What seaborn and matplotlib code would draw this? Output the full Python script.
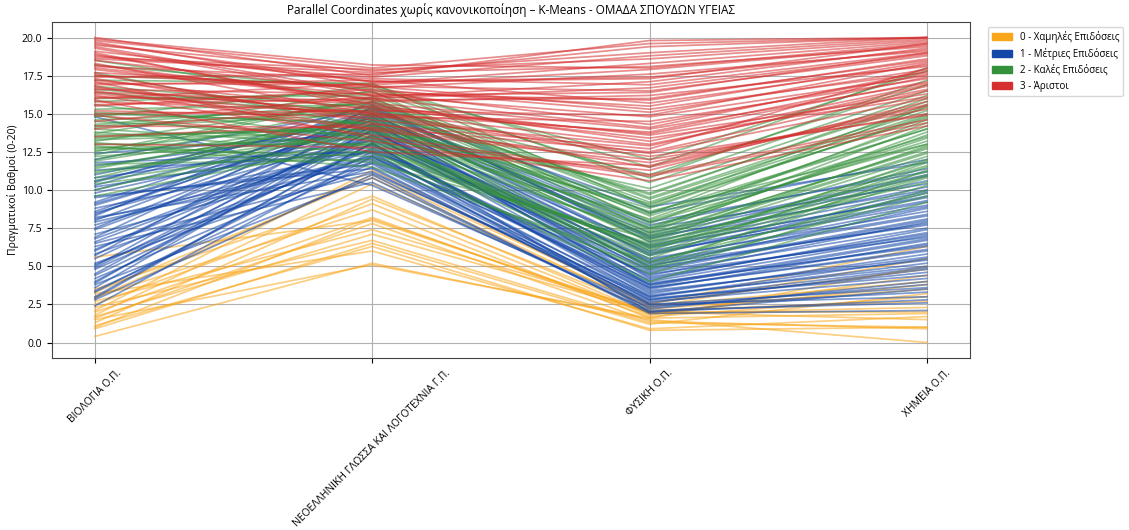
import matplotlib
matplotlib.use("Agg")
import matplotlib.pyplot as plt
from matplotlib.patches import Patch
import pandas as pd
import seaborn as sns

# subjects (axes of the parallel coordinates)
subjects = ["ΒΙΟΛΟΓΙΑ Ο.Π.", "ΝΕΟΕΛΛΗΝΙΚΗ ΓΛΩΣΣΑ ΚΑΙ ΛΟΓΟΤΕΧΝΙΑ Γ.Π.",
            "ΦΥΣΙΚΗ Ο.Π.", "ΧΗΜΕΙΑ Ο.Π."]
cluster_names = ["0 - Χαμηλές Επιδόσεις", "1 - Μέτριες Επιδόσεις",
                 "2 - Καλές Επιδόσεις", "3 - Άριστοι"]
cluster_colors = ["#f9a61a", "#1447a8", "#36913c", "#d62f2f"]

# cluster 0 - low
c0_bio = [0.4, 1.0, 1.1, 1.3, 1.5, 1.7, 1.8, 2.0, 2.1, 2.3, 2.5, 2.7, 3.0, 3.2, 3.3, 3.5, 5.6, 1.6, 2.9, 0.9]
c0_greek = [5.2, 8.1, 6.3, 9.4, 5.1, 7.1, 10.4, 8.2, 11.3, 6.7, 9.1, 7.4, 8.7, 6.0, 10.8, 9.6, 8.0, 7.8, 11.0, 6.5]
c0_phys = [1.5, 1.9, 0.8, 2.2, 1.6, 2.0, 2.4, 1.7, 2.5, 1.3, 1.8, 2.1, 1.6, 0.9, 2.3, 1.9, 2.0, 1.4, 2.6, 1.2]
c0_chem = [0.0, 2.3, 1.0, 3.5, 1.9, 1.5, 4.0, 3.0, 6.3, 1.0, 4.4, 2.7, 5.0, 1.7, 5.5, 3.8, 2.0, 0.9, 4.8, 3.2]

# cluster 1 - medium
c1_bio = [2.4, 2.8, 3.0, 3.3, 3.6, 3.8, 4.0, 4.2, 4.5, 4.8,
          5.0, 5.2, 5.5, 5.8, 6.0, 6.3, 6.6, 6.9, 7.1, 7.4,
          7.7, 8.0, 8.2, 8.3, 8.5, 8.8, 9.0, 9.2, 9.5, 9.8,
          10.0, 10.2, 10.5, 10.8, 11.0, 11.3, 11.6, 12.0, 12.4, 14.8,
          3.9, 5.1, 6.8, 8.4, 9.6, 10.6, 4.4, 7.9, 8.6, 5.7,
          3.4, 6.1, 9.1, 11.8, 2.9, 7.5, 8.1, 10.3, 4.9, 6.5]
c1_greek = [12.2, 11.0, 13.1, 12.5, 14.0, 10.8, 13.6, 11.9, 14.4, 12.8,
            15.0, 11.5, 13.9, 12.3, 14.6, 10.5, 13.3, 15.4, 12.0, 14.1,
            13.0, 14.8, 11.2, 15.8, 13.5, 12.6, 14.3, 15.1, 11.7, 13.8,
            14.5, 12.9, 15.6, 13.2, 14.7, 12.4, 14.0, 15.3, 13.7, 10.3,
            14.2, 12.7, 13.4, 15.0, 11.4, 14.9, 13.0, 12.1, 14.6, 15.5,
            11.8, 13.6, 14.3, 12.5, 13.1, 14.8, 12.2, 15.2, 13.9, 11.1]
c1_phys = [2.2, 1.9, 3.0, 2.5, 3.8, 2.0, 4.6, 2.8, 5.3, 3.3,
           6.0, 2.4, 4.0, 3.6, 5.7, 2.1, 4.4, 6.8, 3.1, 5.0,
           3.5, 7.2, 2.7, 8.5, 4.8, 3.9, 6.3, 7.7, 2.6, 5.5,
           4.2, 3.4, 6.6, 5.1, 7.0, 2.9, 4.7, 8.9, 5.9, 2.3,
           3.7, 4.1, 5.4, 6.2, 2.5, 7.5, 3.2, 4.5, 5.8, 6.9,
           2.8, 3.6, 4.9, 6.4, 2.0, 5.2, 3.8, 7.9, 4.3, 3.0]
c1_chem = [4.0, 2.1, 5.2, 3.6, 6.8, 2.8, 7.5, 4.6, 8.4, 5.6,
           9.3, 3.3, 7.0, 6.0, 9.8, 2.6, 7.9, 10.6, 5.0, 8.8,
           6.5, 11.0, 4.2, 12.0, 8.1, 6.3, 9.5, 11.4, 4.8, 8.6,
           7.2, 5.4, 10.2, 7.7, 10.9, 4.4, 8.0, 11.8, 9.0, 3.8,
           6.7, 7.4, 8.9, 9.6, 3.0, 10.4, 5.8, 6.9, 9.2, 10.0,
           4.9, 6.1, 7.8, 9.9, 3.5, 8.3, 6.4, 11.2, 7.1, 5.5]

# cluster 2 - good
c2_bio = [9.6, 10.0, 10.4, 10.8, 11.1, 11.4, 11.7, 12.0, 12.2, 12.5,
          12.7, 13.0, 13.2, 13.5, 13.7, 14.0, 14.2, 14.5, 14.8, 15.0,
          15.3, 15.6, 16.0, 16.4, 16.8, 17.2, 17.7, 18.2, 18.5, 12.9,
          11.9, 13.3, 14.6, 13.8, 12.3, 15.1, 10.6, 14.3, 13.1, 11.5,
          15.8, 16.6, 12.6, 13.6, 14.9, 17.5, 11.2, 14.1, 13.4, 12.8]
c2_greek = [13.1, 14.2, 12.6, 15.0, 13.7, 14.8, 12.0, 15.5, 13.4, 16.1,
            14.5, 13.0, 15.8, 14.0, 16.5, 12.9, 15.2, 13.6, 16.8, 14.4,
            15.6, 13.3, 16.2, 14.9, 15.4, 17.0, 14.1, 16.6, 15.9, 11.5,
            14.7, 13.8, 15.3, 12.4, 16.0, 14.3, 13.2, 15.7, 11.8, 14.6,
            16.4, 15.1, 13.5, 14.0, 12.7, 16.9, 13.9, 15.0, 14.2, 12.2]
c2_phys = [4.5, 5.8, 4.0, 7.0, 5.2, 6.6, 4.8, 8.0, 6.1, 7.4,
           8.6, 5.5, 9.2, 6.9, 7.8, 6.3, 9.8, 5.0, 10.5, 7.2,
           8.3, 6.0, 9.5, 7.6, 11.0, 8.9, 10.1, 12.0, 9.0, 5.3,
           6.7, 8.1, 7.3, 6.4, 9.4, 7.9, 5.7, 8.5, 6.8, 4.9,
           10.8, 9.7, 7.1, 8.8, 6.2, 11.5, 7.5, 8.4, 9.1, 6.5]
c2_chem = [10.0, 11.5, 9.2, 12.8, 10.8, 12.2, 9.6, 13.5, 11.0, 14.2,
           13.0, 11.8, 15.0, 12.5, 14.6, 10.5, 15.8, 11.3, 16.5, 13.8,
           14.0, 12.0, 15.4, 13.2, 16.9, 14.8, 16.2, 17.8, 15.6, 9.8,
           12.9, 14.4, 13.6, 11.6, 15.2, 13.0, 10.9, 14.0, 12.4, 10.3,
           17.2, 16.0, 12.7, 14.9, 11.9, 18.0, 13.4, 15.5, 14.7, 11.2]

# cluster 3 - excellent
c3_bio = [20.0, 19.9, 19.7, 19.5, 19.3, 19.1, 18.9, 18.7, 18.5, 18.3,
          18.1, 17.9, 17.6, 17.4, 17.2, 17.0, 16.8, 16.6, 16.4, 16.2,
          16.0, 15.8, 15.5, 15.2, 14.9, 14.5, 14.0, 13.5, 13.0, 19.8,
          19.4, 18.8, 18.2, 17.7, 17.3, 16.9, 16.5, 16.1, 15.6, 18.6,
          19.0, 17.5, 16.3, 15.0, 18.0, 19.6, 17.1, 16.7, 14.2, 15.9]
c3_greek = [17.5, 18.2, 16.8, 17.8, 16.2, 17.1, 15.6, 17.9, 16.5, 15.0,
            17.3, 16.0, 14.4, 17.6, 15.3, 16.9, 14.0, 16.3, 15.8, 13.6,
            17.0, 15.1, 16.6, 14.8, 13.2, 16.1, 15.5, 14.3, 12.8, 18.0,
            16.4, 17.4, 15.9, 16.7, 14.6, 17.2, 13.9, 15.7, 16.0, 17.7,
            15.4, 16.8, 14.9, 15.2, 16.2, 17.1, 13.4, 15.0, 14.1, 12.5]
c3_phys = [19.8, 18.0, 16.5, 19.0, 14.8, 17.4, 13.2, 18.6, 15.5, 12.4,
           16.9, 14.1, 11.5, 19.4, 13.7, 17.9, 12.0, 15.9, 16.2, 11.0,
           18.3, 13.0, 15.1, 14.5, 10.6, 17.1, 13.6, 12.7, 11.3, 19.6,
           14.3, 18.8, 16.0, 17.6, 12.9, 15.7, 11.8, 14.0, 16.7, 18.1,
           13.4, 15.3, 12.2, 14.9, 16.4, 17.3, 10.9, 13.8, 12.5, 11.6]
c3_chem = [20.0, 19.6, 18.8, 20.0, 17.5, 19.2, 16.9, 19.8, 18.4, 16.0,
           19.0, 17.8, 15.5, 20.0, 17.1, 19.5, 15.0, 18.6, 18.1, 14.6,
           19.7, 16.6, 17.9, 17.3, 14.2, 19.3, 16.3, 18.0, 15.8, 20.0,
           17.6, 19.9, 18.5, 19.1, 16.8, 18.2, 15.3, 17.0, 18.9, 19.4,
           16.1, 17.7, 14.9, 18.3, 19.0, 19.6, 14.4, 17.4, 16.5, 15.6]

clusters = [
    (c0_bio, c0_greek, c0_phys, c0_chem),
    (c1_bio, c1_greek, c1_phys, c1_chem),
    (c2_bio, c2_greek, c2_phys, c2_chem),
    (c3_bio, c3_greek, c3_phys, c3_chem),
]

frames = []
for k, cols in enumerate(clusters):
    d = pd.DataFrame(dict(zip(subjects, cols)))
    d["Cluster"] = k
    frames.append(d)
wide = pd.concat(frames, ignore_index=True)
wide["student"] = range(len(wide))

long = wide.melt(id_vars=["student", "Cluster"], value_vars=subjects,
                 var_name="subject", value_name="grade")
long["pos"] = long["subject"].map({s: i for i, s in enumerate(subjects)})

plt.rcParams["font.family"] = ["Open Sans", "DejaVu Sans"]

fig, ax = plt.subplots(figsize=(11.29, 5.30), dpi=100)
fig.subplots_adjust(left=0.046, right=0.859, top=0.958, bottom=0.325)

sns.lineplot(data=long, x="pos", y="grade", hue="Cluster", units="student",
             estimator=None, palette=cluster_colors, alpha=0.55, linewidth=1.25,
             legend=False, ax=ax)

ax.set_xticks(range(len(subjects)))
ax.set_xticklabels(subjects, rotation=45, fontsize=7.5)
ax.set_yticks([0, 2.5, 5, 7.5, 10, 12.5, 15, 17.5, 20])
ax.set_yticklabels([f"{v:.1f}" for v in ax.get_yticks()], fontsize=7.5)
ax.set_ylim(-1, 21)
ax.set_xlim(-0.155, 3.155)
ax.set_xlabel("")
ax.set_ylabel("Πραγματικοί Βαθμοί (0-20)", fontsize=7.5, labelpad=2)
ax.set_title("Parallel Coordinates χωρίς κανονικοποίηση – K-Means - ΟΜΑΔΑ ΣΠΟΥΔΩΝ ΥΓΕΙΑΣ",
             fontsize=8.5)
ax.grid(True, color="#b0b0b0", linewidth=0.8)
ax.set_axisbelow(True)
for sp in ax.spines.values():
    sp.set_color("#444444")

handles = [Patch(color=c, label=n) for c, n in zip(cluster_colors, cluster_names)]
ax.legend(handles=handles, bbox_to_anchor=(1.015, 1), loc="upper left", fontsize=7)

fig.savefig("out.png", dpi=100)
